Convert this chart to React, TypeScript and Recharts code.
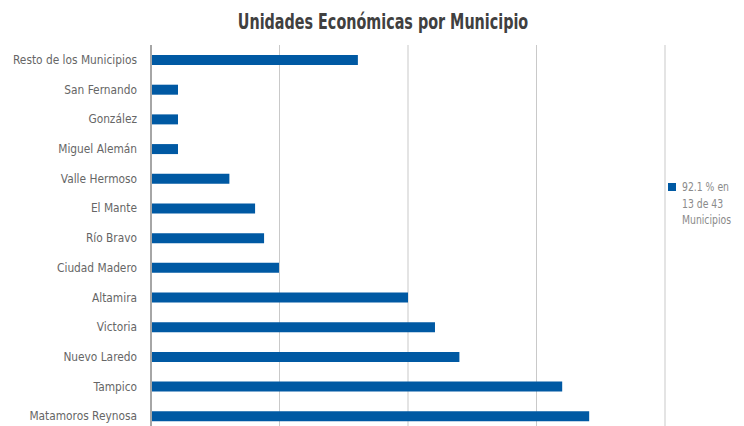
import { Bar, BarChart, CartesianGrid, XAxis, YAxis } from 'recharts'

const municipios = [
  'Resto de los Municipios',
  'San Fernando',
  'González',
  'Miguel Alemán',
  'Valle Hermoso',
  'El Mante',
  'Río Bravo',
  'Ciudad Madero',
  'Altamira',
  'Victoria',
  'Nuevo Laredo',
  'Tampico',
  'Matamoros Reynosa',
]

const porcentaje = [8.05, 1.05, 1.05, 1.05, 3.05, 4.05, 4.4, 4.98, 10.0, 11.05, 12.0, 16.0, 17.05]

const xTicks = [0, 5, 10, 15, 20]

const legendLines = ['92.1 % en', '13 de 43', 'Municipios']

const FONT = "'DejaVu Sans', sans-serif"

const chartData = municipios.map((m, i) => ({ municipio: m, valor: porcentaje[i] }))

function MunicipioTick(props: any) {
  const { x, y, payload } = props
  return (
    <text
      x={x}
      y={y}
      dy="0.35em"
      textAnchor="end"
      fill="#666666"
      fontSize={11.8}
      fontFamily={FONT}
      style={{ fontStretch: 'condensed' }}
    >
      {payload.value}
    </text>
  )
}

export default function App() {
  return (
    <div style={{ position: 'relative', width: 736, height: 440 }}>
      <div
        style={{
          position: 'absolute',
          top: 2,
          left: 0,
          width: 750,
          textAlign: 'center',
          fontFamily: FONT,
          fontWeight: 'bold',
          fontSize: 20.5,
          color: '#404040',
          transform: 'scaleX(0.7)',
          transformOrigin: '375px 0',
        }}
      >
        Unidades Económicas por Municipio
      </div>
      <div
        style={{
          position: 'absolute',
          left: 660,
          top: 171,
          display: 'flex',
          alignItems: 'flex-start',
          fontFamily: FONT,
          fontStretch: 'condensed',
          fontSize: 12,
          color: '#8a8a8a',
          lineHeight: '16.5px',
        }}
      >
        <span style={{ width: 8, height: 8, background: '#0059a3', marginTop: 4, marginRight: 6, flex: 'none' }} />
        <div style={{ transform: 'scaleX(0.86)', transformOrigin: '0 0', whiteSpace: 'nowrap' }}>
          {legendLines.map((l) => (
            <div key={l}>{l}</div>
          ))}
        </div>
      </div>
      <BarChart
        width={736}
        height={440}
        data={chartData}
        layout="vertical"
        margin={{ top: 37, right: 79, bottom: 17, left: 0 }}
        barCategoryGap={0}
      >
        <CartesianGrid horizontal={false} stroke="#c9c9c9" />
        <XAxis type="number" domain={[0, 20]} ticks={xTicks} hide />
        <YAxis
          type="category"
          dataKey="municipio"
          width={143}
          tickLine={false}
          tickMargin={8}
          axisLine={{ stroke: '#a6a6a6', strokeWidth: 2 }}
          tick={<MunicipioTick />}
          interval={0}
        />
        <Bar dataKey="valor" fill="#0059a3" barSize={10} isAnimationActive={false} />
      </BarChart>
    </div>
  )
}
